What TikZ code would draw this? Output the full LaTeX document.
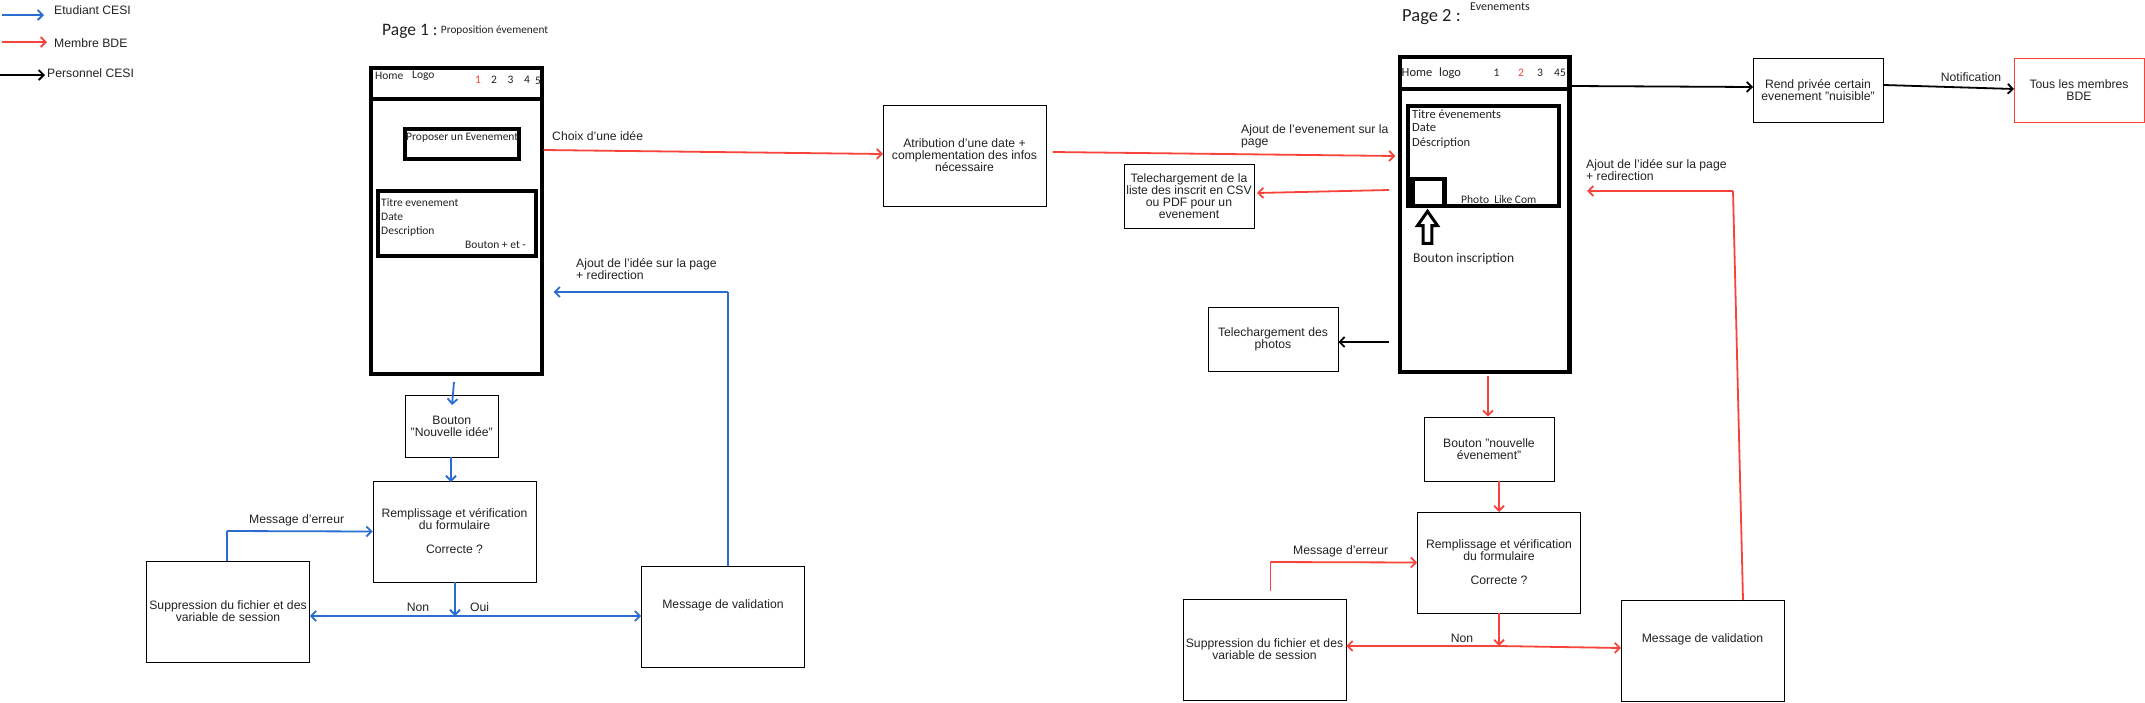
\documentclass[tikz,border=0pt]{standalone}
\usepackage{fontspec}
\setmainfont{Liberation Sans}
\newfontfamily\mockfont{Carlito}
\usetikzlibrary{arrows.meta,calc,positioning,shapes.arrows}
\definecolor{cesiblue}{HTML}{2B6CD0}
\definecolor{bdered}{HTML}{F8433A}
\definecolor{txtdark}{HTML}{222222}
\tikzset{
  every node/.style={font=\fontsize{12.2}{12}\selectfont, text=txtdark},
  box/.style={draw=black, line width=0.85pt, align=center, inner sep=0pt, minimum width=163pt, minimum height=101pt},
  smallbox/.style={box, minimum width=130pt, minimum height=64pt},
  txt/.style={anchor=west, inner sep=0pt, align=left},
  ctxt/.style={inner sep=0pt, align=center},
  mocktxt/.style={txt, font=\mockfont\fontsize{11.5}{12}\selectfont},
  mocktxtb/.style={txt, font=\mockfont\fontsize{12.5}{12}\selectfont},
  mocknum/.style={inner sep=0pt, font=\mockfont\fontsize{11.5}{12}\selectfont},
  frame/.style={draw=black, line width=4.4pt, inner sep=0pt},
  bluearrow/.style={draw=cesiblue, line width=1.8pt, -{Straight Barb[length=5pt,width=10pt]}},
  redarrow/.style={draw=bdered, line width=1.8pt, -{Straight Barb[length=5pt,width=10pt]}},
  blackarrow/.style={draw=black, line width=1.8pt, -{Straight Barb[length=5pt,width=10pt]}},
  blueline/.style={draw=cesiblue, line width=1.8pt},
  redline/.style={draw=bdered, line width=1.8pt},
}
\begin{document}
\begin{tikzpicture}[x=1pt, y=-1pt]
  \useasboundingbox (0,0) rectangle (2145,702);
  % legend
  \coordinate (leg1a) at (2,15);
  \coordinate (leg1b) at (44,15);
  \coordinate (leg2a) at (2,42);
  \coordinate (leg2b) at (47,42);
  \coordinate (leg3a) at (0,75);
  \coordinate (leg3b) at (45,75);
  \draw[bluearrow]  (leg1a) -- (leg1b);
  \draw[redarrow]   (leg2a) -- (leg2b);
  \draw[blackarrow] (leg3a) -- (leg3b);
  \node[txt] (legetu) at (54,10) {Etudiant CESI};
  \node[txt] (legbde) at (54,43) {Membre BDE};
  \node[txt] (legper) at (47,73) {Personnel CESI};

  % page 1 mockup
  \node[txt, font=\mockfont\fontsize{17.5}{17}\selectfont] (page1) at (382,31) {Page 1 :};
  \node[mocktxt, right=3pt of page1, font=\mockfont\fontsize{11.3}{12}\selectfont] (page1sub) {Proposition évemenent};
  \node[frame, minimum width=171pt, minimum height=306pt] (mock1) at (456.5,221) {};
  \draw[frame] ($(mock1.north west)+(0,33)$) -- ($(mock1.north east)+(0,33)$);
  \node[mocktxt] (home1) at (375,76) {Home};
  \node[mocktxt] (logo1) at (412,76) {Logo};
  \node[mocknum, text=bdered] (n11) at (478,80) {1};
  \node[mocknum] (n12) at (494,80) {2};
  \node[mocknum] (n13) at (510.5,80) {3};
  \node[mocknum] (n14) at (527,80) {4};
  \node[mocknum] (n15) at (538,81) {5};
  \node[frame, minimum width=114pt, minimum height=30pt] (propose) at (462,144) {};
  \node[mocktxt] (proposetxt) at (406,138) {Proposer un Evenement};
  \node[frame, minimum width=158pt, minimum height=65pt] (idea) at (457,223.5) {};
  \node[mocktxt] (idea1) at (381,203) {Titre evenement};
  \node[mocktxt] (idea2) at (381,217) {Date};
  \node[mocktxt] (idea3) at (381,231) {Description};
  \node[mocktxt] (idea4) at (465,245) {Bouton + et -};

  % page 1 flow
  \node[smallbox, minimum width=92.5pt, minimum height=62pt] (btn1) at (451.75,426) {Bouton\\"Nouvelle idée"};
  \node[box] (form1) at (454.5,531.5) {Remplissage et vérification\\du formulaire\\ \mbox{}\\Correcte ?};
  \node[box] (del1) at (228,611.5) {Suppression du fichier et des\\variable de session};
  \node[box] (val1) at (723,616.5) {Message de validation\\ \mbox{}\\ \mbox{}};
  \node[box, minimum height=101pt] (attr) at (964.5,155.5) {Atribution d'une date +\\complementation des infos\\nécessaire};
  \coordinate (m1out)  at (454,382);
  \coordinate (btn1in) at (452,405);
  \coordinate (btn1out) at (451,457);
  \coordinate (form1in) at (451,482);
  \coordinate (err1) at (227,531);
  \coordinate (dec1) at (455,616);
  \coordinate (ret1) at (728,292);
  \coordinate (ret1end) at (553.6,292);
  \coordinate (choixa) at (543.5,150);
  \coordinate (choixb) at (883,154);
  \draw[bluearrow] (m1out) -- (btn1in);
  \draw[bluearrow] (btn1out) -- (form1in);
  \draw[blueline]  (del1.north -| err1) -- (err1);
  \draw[bluearrow] (err1) -- (form1.west);
  \draw[bluearrow] (form1.south -| dec1) -- (dec1);
  \draw[bluearrow] (dec1) -- (del1.east |- dec1);
  \draw[bluearrow] (dec1) -- (val1.west |- dec1);
  \draw[blueline]  (val1.north -| ret1) -- (ret1);
  \draw[bluearrow] (ret1) -- (ret1end);
  \draw[redarrow]  (choixa) -- (choixb);
  \node[txt] (errlab1) at (249,520) {Message d'erreur};
  \node[ctxt] (nonlab1) at (418,607) {Non};
  \node[ctxt] (ouilab1) at (479.5,607) {Oui};
  \node[txt] (retlab1) at (576,269) {Ajout de l'idée sur la page\\+ redirection};
  \node[txt] (choixlab) at (552,136) {Choix d'une idée};

  % page 2 mockup
  \node[txt, font=\mockfont\fontsize{18.5}{17}\selectfont] (page2) at (1402,17) {Page 2 :};
  \node[mocktxt, font=\mockfont\fontsize{12}{12}\selectfont] (page2sub) at (1470,7) {Evenements};
  \node[frame, minimum width=169.5pt, minimum height=315pt] (mock2) at (1484.75,214.5) {};
  \draw[frame] ($(mock2.north west)+(0,34)$) -- ($(mock2.north east)+(0,34)$);
  \node[mocktxtb] (home2) at (1401.5,73) {Home};
  \node[mocktxtb] (logo2) at (1439,73) {logo};
  \node[mocknum] (n21) at (1496.5,73) {1};
  \node[mocknum, text=bdered] (n22) at (1521,73) {2};
  \node[mocknum] (n23) at (1540,73) {3};
  \node[mocknum] (n24) at (1560,73) {45};
  \node[frame, minimum width=151pt, minimum height=100pt] (event) at (1483.5,156) {};
  \node[frame, minimum width=32pt, minimum height=27pt] (photo) at (1428.5,192.5) {};
  \node[mocktxtb] (event1) at (1412,114) {Titre évenements};
  \node[mocktxtb] (event2) at (1412,128) {Date};
  \node[mocktxtb] (event3) at (1412,143) {Déscription};
  \node[mocktxt] (event4) at (1461,200) {Photo\ \ Like Com};
  \node[single arrow, draw=black, line width=3pt, shape border rotate=90, inner sep=2.5pt, minimum width=20pt, minimum height=32pt, single arrow head extend=5pt, single arrow tip angle=70] (inscr) at (1427.5,230.5) {};
  \node[txt, font=\mockfont\fontsize{13.5}{12}\selectfont] (inscrtxt) at (1413,259) {Bouton inscription};

  % page 2 flow
  \node[smallbox] (csv) at (1189,196) {Telechargement de la\\liste des inscrit en CSV\\ou PDF pour un\\evenement};
  \node[smallbox] (photos) at (1273,339) {Telechargement des\\photos};
  \node[smallbox] (prive) at (1818,90) {Rend privée certain\\evenement "nuisible"};
  \node[smallbox, draw=bdered] (tous) at (2079,90) {Tous les membres\\BDE};
  \node[smallbox] (btn2) at (1489,449) {Bouton "nouvelle\\évenement"};
  \node[box] (form2) at (1499,562.5) {Remplissage et vérification\\du formulaire\\ \mbox{}\\Correcte ?};
  \node[box] (del2) at (1264.5,649.5) {Suppression du fichier et des\\variable de session};
  \node[box] (val2) at (1702.5,650.5) {Message de validation\\ \mbox{}\\ \mbox{}};
  \coordinate (attrout) at (1052.5,152);
  \coordinate (m2in) at (1395.4,156);
  \coordinate (csvout) at (1389,190);
  \coordinate (csvin) at (1257,193);
  \coordinate (photosout) at (1389,342);
  \coordinate (m2out) at (1488,376);
  \coordinate (prive1) at (1572,86);
  \coordinate (prive2) at (1753,87);
  \coordinate (notifa) at (1884,85);
  \coordinate (notifb) at (2014,89);
  \coordinate (btn2out) at (1499,481);
  \coordinate (form2in) at (1499,512);
  \coordinate (err2a) at (1270.4,591);
  \coordinate (err2) at (1270.4,562);
  \coordinate (dec2) at (1499,646);
  \coordinate (val2in) at (1621,648);
  \coordinate (ret2a) at (1743,600);
  \coordinate (ret2) at (1733,191);
  \coordinate (ret2end) at (1587,191);
  \draw[redarrow] (attrout) -- (m2in);
  \draw[redarrow] (csvout) -- (csvin);
  \draw[blackarrow] (photosout) -- (photos.east |- photosout);
  \draw[blackarrow] (prive1) -- (prive2);
  \draw[blackarrow] (notifa) -- (notifb);
  \draw[redarrow] (m2out) -- (btn2.north -| m2out);
  \draw[redarrow] (btn2out) -- (form2in);
  \draw[redline]  (err2a) -- (err2);
  \draw[redarrow] (err2) -- (form2.west);
  \draw[redarrow] (form2.south -| dec2) -- (dec2);
  \draw[redarrow] (dec2) -- (del2.east |- dec2);
  \draw[redarrow] (dec2) -- (val2in);
  \draw[redline]  (ret2a) -- (ret2);
  \draw[redarrow] (ret2) -- (ret2end);
  \node[txt] (evlab) at (1241,136) {Ajout de l'evenement sur la\\page};
  \node[txt] (retlab2) at (1586,170) {Ajout de l'idée sur la page\\+ redirection};
  \node[ctxt] (notiflab) at (1971,77) {Notification};
  \node[txt] (errlab2) at (1293,551) {Message d'erreur};
  \node[ctxt] (nonlab2) at (1462,638) {Non};
\end{tikzpicture}
\end{document}
